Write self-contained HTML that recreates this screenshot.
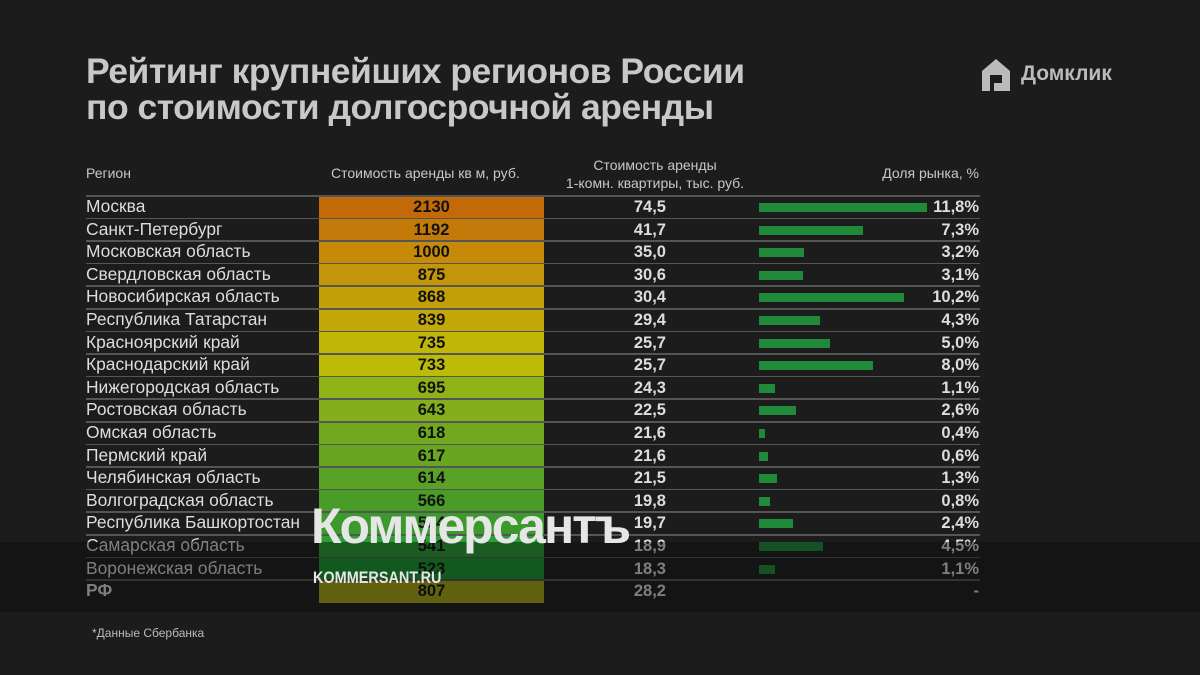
<!DOCTYPE html>
<html><head><meta charset="utf-8"><style>
body{margin:0;width:1200px;height:675px;background:#1c1c1c;position:relative;overflow:hidden;font-family:"Liberation Sans",sans-serif;color:#ddd}
.a{position:absolute;white-space:nowrap}
.t{left:86px;font-size:35.5px;font-weight:bold;color:#c8c8c8;letter-spacing:-0.5px}
.h{font-size:14px;color:#c8c8c8}
.r{left:86px;font-size:17.4px;color:#ddd}
.v{font-size:16.5px;font-weight:bold;color:#ddd}
.line{position:absolute;left:86px;width:894px;height:1.5px;background:#555}
</style></head><body>
<div class="a t" style="top:51px">Рейтинг крупнейших регионов России</div>
<div class="a t" style="top:87px">по стоимости долгосрочной аренды</div>
<svg class="a" style="left:980px;top:57px" width="36" height="36" viewBox="0 0 36 36"><path d="M2 14 L16 2 L30 14 L30 34 L14 34 L14 26 L22 26 L22 18 L10 18 L10 34 L2 34 Z" fill="#bbb"/></svg>
<div class="a" style="left:1021px;top:62px;font-size:21px;font-weight:bold;color:#bbb">Домклик</div>
<div class="a h" style="left:86px;top:165px">Регион</div>
<div class="a h" style="left:331px;top:165px">Стоимость аренды кв м, руб.</div>
<div class="a h" style="left:555px;top:156px;width:200px;text-align:center;line-height:18px">Стоимость аренды<br>1-комн. квартиры, тыс. руб.</div>
<div class="a h" style="left:780px;top:165px;width:199px;text-align:right">Доля рынка, %</div>
<div id="rows"></div>
<div class="a" style="left:0;top:542px;width:1200px;height:70px;background:rgba(10,10,10,0.45)"></div>
<div class="a" style="left:311px;top:497px;font-size:50px;font-weight:bold;color:#e6e6e6;letter-spacing:-2px">Коммерсантъ</div>
<div class="a" style="left:313px;top:568px;font-size:17px;font-weight:bold;color:#e6e6e6;transform:scaleX(0.85);transform-origin:left">KOMMERSANT.RU</div>
<div class="a" style="left:92px;top:626px;font-size:12px;color:#bbb">*Данные Сбербанка</div>
<script>
var d=[["Москва",2130,"74,5",11.8,"#c26a08"],["Санкт-Петербург",1192,"41,7",7.3,"#c47a08"],["Московская область",1000,"35,0",3.2,"#c68a08"],["Свердловская область",875,"30,6",3.1,"#c49508"],["Новосибирская область",868,"30,4",10.2,"#c4a008"],["Республика Татарстан",839,"29,4",4.3,"#c2a808"],["Красноярский край",735,"25,7",5.0,"#c0b608"],["Краснодарский край",733,"25,7",8.0,"#bcbc08"],["Нижегородская область",695,"24,3",1.1,"#8eb218"],["Ростовская область",643,"22,5",2.6,"#84ae1c"],["Омская область",618,"21,6",0.4,"#72a820"],["Пермский край",617,"21,6",0.6,"#68a622"],["Челябинская область",614,"21,5",1.3,"#5aa226"],["Волгоградская область",566,"19,8",0.8,"#4a9c28"],["Республика Башкортостан",554,"19,7",2.4,"#3c9a2c"],["Самарская область",541,"18,9",4.5,"#28a032"],["Воронежская область",523,"18,3",1.1,"#189a30"],["РФ",807,"28,2",null,"#a8a814"]];
var h="";
d.forEach(function(r,i){var top=196+22.6*i;
h+='<div class="a" style="left:319px;top:'+top+'px;width:225px;height:23px;background:'+r[4]+'"></div>';
h+='<div class="line" style="top:'+(top-1)+'px"></div>';
var b=i==17?'font-weight:bold;':'';
h+='<div class="a r" style="top:'+(top)+'px;'+b+'">'+r[0]+'</div>';
h+='<div class="a v" style="left:319px;width:225px;text-align:center;top:'+(top+2)+'px;color:#111">'+r[1]+'</div>';
h+='<div class="a v" style="left:560px;width:106px;text-align:right;top:'+(top+2)+'px">'+r[2]+'</div>';
h+='<div class="a v" style="left:880px;width:99px;text-align:right;top:'+(top+2)+'px">'+(r[3]==null?'-':r[3].toFixed(1).replace('.',',')+'%')+'</div>';
if(r[3]!=null)h+='<div class="a" style="left:759px;top:'+(top+7)+'px;width:'+(r[3]*14.2)+'px;height:9px;background:#1e8a3a"></div>';
});
document.getElementById("rows").innerHTML=h;
</script>
</body></html>
